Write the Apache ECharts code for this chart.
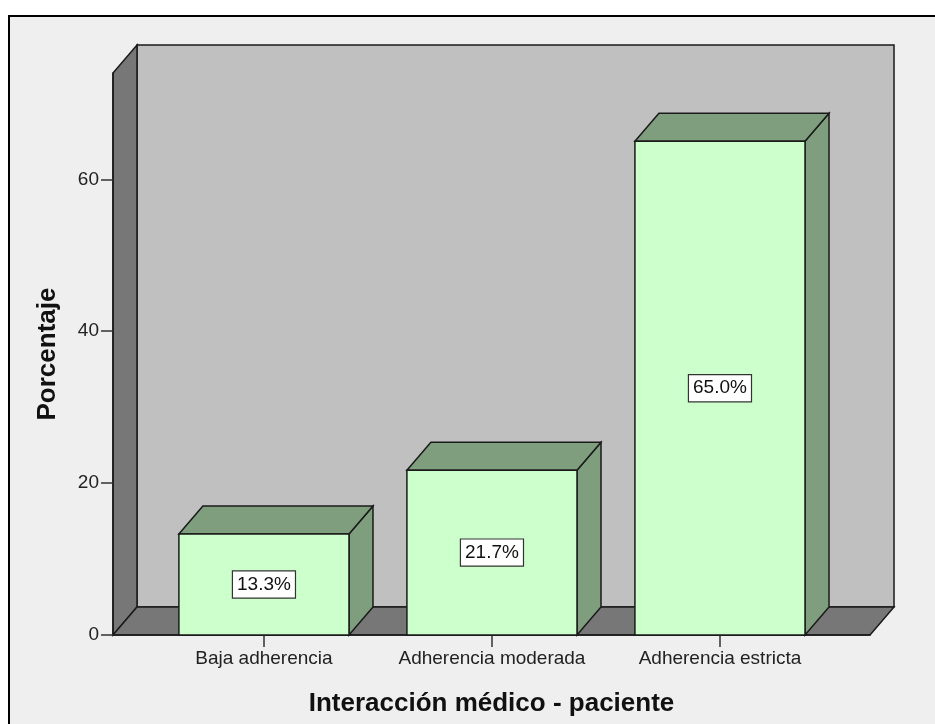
<!DOCTYPE html>
<html>
<head>
<meta charset="utf-8">
<script src="https://cdn.jsdelivr.net/npm/echarts@6/dist/echarts.min.js"></script>
<style>
html,body{margin:0;padding:0;background:#fff;}
#chart{width:935px;height:724px;}
</style>
</head>
<body>
<div id="chart"></div>
<script>
// ---- data ----
const categories = ['Baja adherencia', 'Adherencia moderada', 'Adherencia estricta'];
const percentValues = [13.3, 21.7, 65.0];
const yTickValues = [0, 20, 40, 60];
const xTitle = 'Interacción médico - paciente';
const yTitle = 'Porcentaje';

// ---- style constants ----
const X_MIN = -0.662, X_MAX = 2.658;
const Y_MIN = 0, Y_MAX = 74;
const HALF = 0.373;          // half bar width in category units
const DX = 24, DY = 28;      // 3D depth offset (px)
const EDGE = '#1a1a1a';
const FONT = '"Liberation Sans", Arial, sans-serif';

const chart = echarts.init(document.getElementById('chart'));

const option = {
  backgroundColor: '#ffffff',
  animation: false,
  graphic: [{
    type: 'rect', z: -100,
    shape: { x: 9, y: 16, width: 1000, height: 1000 },
    style: { fill: '#efefef', stroke: '#000', lineWidth: 2 }
  }],
  grid: { left: 113, right: 65, top: 73, bottom: 89 },
  xAxis: {
    type: 'value', min: X_MIN, max: X_MAX,
    splitLine: { show: false },
    axisLine: { show: true, onZero: false, lineStyle: { color: EDGE, width: 1.5 } },
    axisTick: { show: true, length: 12, customValues: categories.map((c, i) => i), lineStyle: { color: '#333', width: 1.5 } },
    axisLabel: { customValues: categories.map((c, i) => i), margin: 14, color: '#222', fontSize: 19, fontFamily: FONT,
      formatter: v => categories[Math.round(v)] },
    name: xTitle, nameLocation: 'middle', nameGap: 56,
    nameTextStyle: { fontSize: 26, fontWeight: 'bold', color: '#111', fontFamily: FONT }
  },
  yAxis: {
    type: 'value', min: Y_MIN, max: Y_MAX,
    splitLine: { show: false },
    axisLine: { show: true, onZero: false, lineStyle: { color: EDGE, width: 1.5 } },
    axisTick: { show: true, length: 12, customValues: yTickValues, lineStyle: { color: '#333', width: 1.5 } },
    axisLabel: { customValues: yTickValues, margin: 14, color: '#222', fontSize: 19, fontFamily: FONT },
    name: yTitle, nameLocation: 'middle', nameGap: 52, nameRotate: 90,
    nameTextStyle: { fontSize: 26, fontWeight: 'bold', color: '#111', fontFamily: FONT }
  },
  series: [
    {
      type: 'custom', z: -1, silent: true,
      data: [[0, 0]],
      renderItem: function (params, api) {
        const a = api.coord([X_MIN, Y_MIN]);
        const b = api.coord([X_MIN, Y_MAX]);
        const c = api.coord([X_MAX, Y_MIN]);
        const sty = { stroke: EDGE, lineWidth: 1.5 };
        return {
          type: 'group', children: [
            { type: 'rect', shape: { x: a[0] + DX, y: b[1] - DY, width: c[0] - a[0], height: a[1] - b[1] },
              style: Object.assign({ fill: '#c0c0c0' }, sty) },
            { type: 'polygon', shape: { points: [[a[0], a[1]], [b[0], b[1]], [b[0] + DX, b[1] - DY], [a[0] + DX, a[1] - DY]] },
              style: Object.assign({ fill: '#777777' }, sty) },
            { type: 'polygon', shape: { points: [[a[0], a[1]], [c[0], c[1]], [c[0] + DX, c[1] - DY], [a[0] + DX, a[1] - DY]] },
              style: Object.assign({ fill: '#777777' }, sty) }
          ]
        };
      }
    },
    {
      type: 'custom', z: 2,
      data: percentValues.map((v, i) => [i, v]),
      renderItem: function (params, api) {
        const i = api.value(0), v = api.value(1);
        const lt = api.coord([i - HALF, v]);
        const rb = api.coord([i + HALF, 0]);
        const mid = api.coord([i, v / 2]);
        const x0 = lt[0], y0 = lt[1], x1 = rb[0], y1 = rb[1];
        const sty = { stroke: EDGE, lineWidth: 1.5 };
        return {
          type: 'group', children: [
            { type: 'polygon', shape: { points: [[x1, y1], [x1 + DX, y1 - DY], [x1 + DX, y0 - DY], [x1, y0]] },
              style: Object.assign({ fill: '#7e9e7e' }, sty) },
            { type: 'polygon', shape: { points: [[x0, y0], [x0 + DX, y0 - DY], [x1 + DX, y0 - DY], [x1, y0]] },
              style: Object.assign({ fill: '#7e9e7e' }, sty) },
            { type: 'rect', shape: { x: x0, y: y0, width: x1 - x0, height: y1 - y0 },
              style: Object.assign({ fill: '#ccffcc' }, sty) },
            { type: 'text', x: mid[0], y: mid[1], z2: 10,
              style: { text: v.toFixed(1) + '%', fill: '#111', font: '19px ' + FONT,
                align: 'center', verticalAlign: 'middle',
                backgroundColor: '#ffffff', borderColor: '#333', borderWidth: 1.2, padding: [4, 4, 3, 4] } }
          ]
        };
      }
    }
  ]
};
chart.setOption(option);
</script>
</body>
</html>
